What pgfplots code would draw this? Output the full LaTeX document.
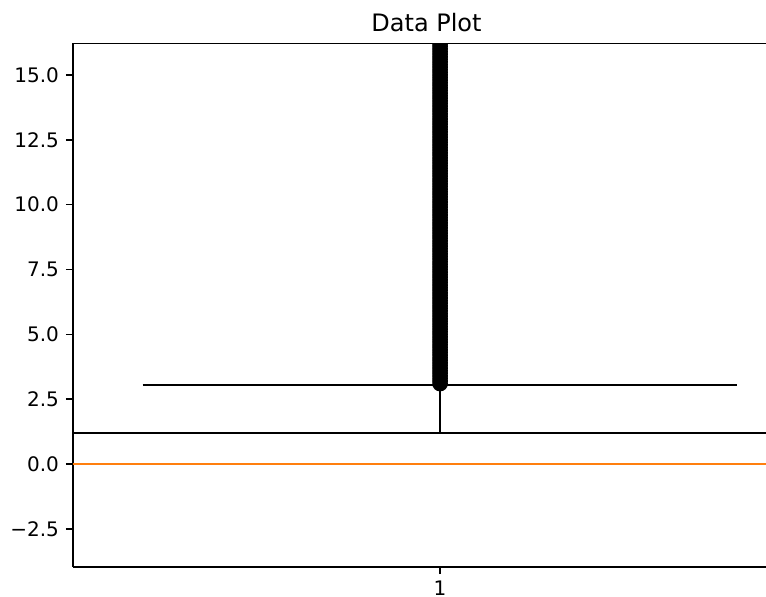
\documentclass[border=0pt]{standalone}
\usepackage{pgfplots}
\pgfplotsset{compat=1.18}
\usepgfplotslibrary{statistics}
\usepackage{fontspec}
\setmainfont{DejaVu Sans}
\definecolor{mplorange}{HTML}{FF7F0E}
\begin{document}
\begin{tikzpicture}
\begin{axis}[
  at={(0,0)}, anchor=south west,
  scale only axis,
  width=353.5pt, height=262pt,
  xmin=0.5, xmax=1.463,
  ymin=-3.97, ymax=16.23,
  axis line style={line width=0.8pt, black},
  axis x line*=bottom, axis y line*=left,
  tick align=outside,
  major tick length=3.5pt,
  tick style={line width=0.8pt, black},
  xtick={1}, xticklabels={1},
  ytick={-2.5,0,2.5,5,7.5,10,12.5,15},
  yticklabels={−2.5,0.0,2.5,5.0,7.5,10.0,12.5,15.0},
  ticklabel style={font=\fontsize{10}{12}\selectfont},
  title={Data Plot},
  title style={font=\fontsize{12}{14}\selectfont, at={(0.5,1)}, anchor=base, yshift=-0.3pt},
  clip marker paths=true,
  boxplot/draw direction=y,
]
\draw[line width=0.8pt, black] (rel axis cs:0,1) -- (rel axis cs:1,1);
\addplot[black, line width=1pt, mark=*, mark size=3.4pt,
  mark options={fill=black, solid},
  boxplot/every median/.style={draw=mplorange, line width=1pt},
  boxplot prepared={draw position=1, lower whisker=0, lower quartile=0,
    median=0, upper quartile=1.2, upper whisker=3.05,
    box extend=1.62, whisker extend=0.81}]
coordinates {
(0,3.1)(0,3.2)(0,3.3)(0,3.4)(0,3.5)(0,3.6)(0,3.7)(0,3.8)(0,3.9)(0,4.0)
(0,4.1)(0,4.2)(0,4.3)(0,4.4)(0,4.5)(0,4.6)(0,4.7)(0,4.8)(0,4.9)(0,5.0)
(0,5.1)(0,5.2)(0,5.3)(0,5.4)(0,5.5)(0,5.6)(0,5.7)(0,5.8)(0,5.9)(0,6.0)
(0,6.1)(0,6.2)(0,6.3)(0,6.4)(0,6.5)(0,6.6)(0,6.7)(0,6.8)(0,6.9)(0,7.0)
(0,7.1)(0,7.2)(0,7.3)(0,7.4)(0,7.5)(0,7.6)(0,7.7)(0,7.8)(0,7.9)(0,8.0)
(0,8.1)(0,8.2)(0,8.3)(0,8.4)(0,8.5)(0,8.6)(0,8.7)(0,8.8)(0,8.9)(0,9.0)
(0,9.1)(0,9.2)(0,9.3)(0,9.4)(0,9.5)(0,9.6)(0,9.7)(0,9.8)(0,9.9)(0,10.0)
(0,10.1)(0,10.2)(0,10.3)(0,10.4)(0,10.5)(0,10.6)(0,10.7)(0,10.8)(0,10.9)(0,11.0)
(0,11.1)(0,11.2)(0,11.3)(0,11.4)(0,11.5)(0,11.6)(0,11.7)(0,11.8)(0,11.9)(0,12.0)
(0,12.1)(0,12.2)(0,12.3)(0,12.4)(0,12.5)(0,12.6)(0,12.7)(0,12.8)(0,12.9)(0,13.0)
(0,13.1)(0,13.2)(0,13.3)(0,13.4)(0,13.5)(0,13.6)(0,13.7)(0,13.8)(0,13.9)(0,14.0)
(0,14.1)(0,14.2)(0,14.3)(0,14.4)(0,14.5)(0,14.6)(0,14.7)(0,14.8)(0,14.9)(0,15.0)
(0,15.1)(0,15.2)(0,15.3)(0,15.4)(0,15.5)(0,15.6)(0,15.7)(0,15.8)(0,15.9)(0,16.0)
(0,16.1)(0,16.2)(0,16.3)(0,16.4)
};
\end{axis}
\pgfresetboundingbox
\useasboundingbox (-36.5pt,-14.5pt) rectangle (346.5pt,283.5pt);
\end{tikzpicture}
\end{document}
